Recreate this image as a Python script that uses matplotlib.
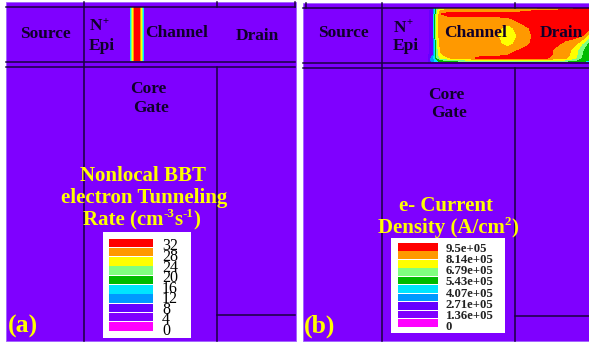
import numpy as np
import matplotlib
matplotlib.use("Agg")
import matplotlib.pyplot as plt
from matplotlib.colors import ListedColormap
from matplotlib.patches import Rectangle

plt.rcParams['font.family'] = ['Liberation Serif', 'DejaVu Serif']

band_colors = ['#ff00ff', '#7f00ff', '#6600ff', '#0099ff', '#00e5ff',
               '#00bb00', '#80ff80', '#ffff00', '#ff9900', '#ff0000']
labels_a = ['32', '28', '24', '20', '16', '12', '8', '4', '0']
labels_b = ['9.5e+05', '8.14e+05', '6.79e+05', '5.43e+05', '4.07e+05',
            '2.71e+05', '1.36e+05', '0']

# band index read across the tunnelling strip in panel (a)
strip_values = [[4.5, 6.5, 7.5, 8.5, 9.5, 9.5, 9.5, 9.5, 9.5, 9.5, 9.5, 8.5, 7.5, 6.5, 4.5]]

# band index (b)
map_x = [428, 433, 437, 441, 450, 480, 500, 508, 516, 528, 535, 548, 555, 565, 575, 582, 589]
map_y = [8, 11, 14, 20, 28, 36, 44, 50, 55, 58, 60, 62]
map_values = [
    [1.5, 2.5, 6.0, 7.0, 7.0, 7.0, 7.0, 7.0, 7.0, 7.2, 7.4, 7.6, 7.8, 8.3, 8.8, 9.1, 9.3],
    [1.5, 2.9, 6.8, 8.4, 8.7, 8.7, 8.7, 8.7, 8.7, 8.9, 9.1, 9.3, 9.5, 9.5, 9.5, 9.5, 9.5],
    [1.5, 3.0, 7.0, 9.0, 9.4, 9.4, 9.4, 9.4, 9.4, 9.5, 9.5, 9.5, 9.5, 9.5, 9.5, 9.5, 9.5],
    [1.5, 3.0, 7.2, 9.0, 8.5, 8.5, 8.6, 8.7, 9.05, 9.4, 9.5, 9.5, 9.5, 9.5, 9.5, 9.5, 9.5],
    [1.5, 3.0, 7.2, 9.0, 8.5, 8.5, 8.1, 7.5, 8.3, 8.95, 9.3, 9.5, 9.5, 9.5, 9.5, 9.4, 9.3],
    [1.5, 3.0, 7.2, 9.0, 8.5, 8.5, 7.9, 7.2, 7.9, 8.7, 9.2, 9.5, 9.5, 9.5, 9.3, 9.0, 7.5],
    [1.5, 2.8, 6.8, 8.5, 8.5, 8.5, 8.1, 7.5, 8.3, 8.9, 9.3, 9.5, 9.3, 8.7, 8.2, 7.0, 5.5],
    [1.5, 2.8, 6.5, 8.3, 8.5, 8.5, 8.5, 8.5, 8.9, 9.3, 9.5, 9.5, 8.8, 8.5, 7.6, 6.2, 5.0],
    [1.8, 3.0, 6.5, 7.8, 8.7, 8.7, 8.9, 9.0, 9.3, 9.5, 9.5, 9.4, 8.7, 8.5, 7.4, 6.0, 5.0],
    [2.2, 3.5, 5.8, 7.2, 8.0, 9.2, 9.2, 9.2, 9.2, 9.2, 9.2, 9.0, 8.5, 8.2, 7.2, 5.8, 5.0],
    [2.5, 3.5, 5.0, 5.8, 6.5, 7.5, 7.5, 7.5, 7.5, 7.5, 7.5, 7.5, 7.2, 7.0, 6.2, 5.2, 5.0],
    [2.5, 3.2, 4.5, 5.2, 5.3, 5.4, 5.4, 5.4, 5.4, 5.4, 5.4, 5.4, 5.4, 5.4, 5.2, 5.0, 5.0],
]

fig = plt.figure(figsize=(5.89, 3.43), dpi=100, facecolor='white')
ax = fig.add_axes([0, 0, 1, 1])
ax.set_xlim(0, 589)
ax.set_ylim(343, 0)
ax.axis('off')

purple = band_colors[1]
cmap = ListedColormap(band_colors)
line = dict(color='#1a0040', lw=1.1, zorder=4)
bold = dict(fontweight='bold', color='#10002a', ha='center', va='center', zorder=6)
yel = dict(fontweight='bold', color='#ffff00', ha='center', va='center', zorder=6)


def rich(xc, y, parts, size, color):
    """Centre a run of normal and raised pieces of text on xc."""
    rend = fig.canvas.get_renderer()
    made = []
    for s, sup in parts:
        fsz = size * 0.62 if sup else size
        t = ax.text(0, y - (size * 0.42 if sup else 0), s, fontsize=fsz, fontweight='bold',
                    color=color, ha='left', va='center', zorder=6)
        made.append((t, t.get_window_extent(rend).width))
    x = xc - sum(w for _, w in made) / 2
    for t, w in made:
        t.set_x(x)
        x += w


# panels
ax.add_patch(Rectangle((5.5, 2), 290, 339, fc=purple, ec='#a060ff', lw=0.6, zorder=1))
ax.add_patch(Rectangle((303, 3), 286, 338, fc=purple, ec='#a060ff', lw=0.6, zorder=1))

# heat
ax.imshow(strip_values, cmap=cmap, vmin=0, vmax=10, extent=(130, 144, 61, 7),
          aspect='auto', interpolation='nearest', zorder=2)
ax.contourf(map_x, map_y, map_values, levels=np.arange(0, 11), cmap=cmap, vmin=0, vmax=10, zorder=2)
ax.set_xlim(0, 589)
ax.set_ylim(343, 0)

# mesh lines panel a
for y in (6.5, 61.5, 67):
    ax.plot([5.5, 295], [y, y], **line)
ax.plot([84, 84], [2, 341], **line)
ax.plot([216.5, 216.5], [2, 6.5], **line)
ax.plot([216.5, 216.5], [67, 341], **line)
ax.plot([294.5, 294.5], [2, 6.5], **line)
ax.plot([216.5, 295], [314.5, 314.5], **line)
# mesh lines panel b
for y in (8, 62.5, 68):
    ax.plot([303, 589], [y, y], **line)
ax.plot([382, 382], [3, 341], **line)
ax.plot([514.5, 514.5], [3, 8], **line)
ax.plot([514.5, 514.5], [68, 341], **line)
ax.plot([514.5, 589], [315.5, 315.5], **line)
ax.plot([306, 306], [3, 8], **line)

fs = 12.5
# region labels a
ax.text(45, 33.5, 'Source', fontsize=fs, **bold)
rich(99, 26.5, [('N', False), ('+', True)], fs, '#10002a')
ax.text(101.5, 45.5, 'Epi', fontsize=fs, **bold)
ax.text(177, 33, 'Channel', fontsize=fs, **bold)
ax.text(257.5, 36, 'Drain', fontsize=fs, **bold)
ax.text(148.5, 89, 'Core', fontsize=fs, **bold)
ax.text(151, 108, 'Gate', fontsize=fs, **bold)
# region labels b
ax.text(343, 33, 'Source', fontsize=fs, **bold)
rich(403, 28, [('N', False), ('+', True)], fs, '#10002a')
ax.text(405.5, 46, 'Epi', fontsize=fs, **bold)
ax.text(476, 33, 'Channel', fontsize=fs, **bold)
ax.text(561, 33, 'Drain', fontsize=fs, **bold)
ax.text(446.5, 95, 'Core', fontsize=fs, **bold)
ax.text(449, 113, 'Gate', fontsize=fs, **bold)

# yellow titles
ty = 15
ax.text(143, 176, 'Nonlocal BBT', fontsize=ty, **yel)
ax.text(144, 198, 'electron Tunneling', fontsize=ty, **yel)
rich(142, 220, [('Rate (cm', False), ('-3', True), ('s', False), ('-1', True), (')', False)], ty, '#ffff00')
ax.text(446, 206, 'e- Current', fontsize=ty, **yel)
rich(448, 228, [('Density (A/cm', False), ('2', True), (')', False)], ty, '#ffff00')
ax.text(23, 326, '(a)', fontsize=18.5, **yel)
ax.text(320, 326, '(b)', fontsize=18.5, **yel)

# legend a
ax.add_patch(Rectangle((103, 232), 88, 106, fc='white', ec='none', zorder=5))
n = len(band_colors)
ys_a = 238.5 + np.arange(n) * (331 - 238.5 - 8.6) / (n - 1)
for y, c in zip(ys_a, band_colors[::-1]):
    ax.add_patch(Rectangle((108.5, y), 44, 8.4, fc=c, ec='none', zorder=6))
lab_y_a = 246.5 + np.arange(len(labels_a)) * (331 - 246.5) / (len(labels_a) - 1)
for y, t in zip(lab_y_a, labels_a):
    ax.text(162, y, t, fontsize=11.5, color='black', ha='left', va='center', zorder=7)

# legend b
ax.add_patch(Rectangle((391, 238), 114, 95, fc='white', ec='none', zorder=5))
ys_b = 243 + np.arange(n) * (327 - 243 - 7.8) / (n - 1)
for y, c in zip(ys_b, band_colors[::-1]):
    ax.add_patch(Rectangle((398, y), 40, 7.6, fc=c, ec='none', zorder=6))
lab_y_b = 249 + np.arange(len(labels_b)) * (327 - 249) / (len(labels_b) - 1)
for y, t in zip(lab_y_b, labels_b):
    ax.text(446, y, t, fontsize=9.2, fontweight='bold', color='#222222', ha='left', va='center', zorder=7)

fig.savefig('out.png', dpi=100, facecolor='white')
